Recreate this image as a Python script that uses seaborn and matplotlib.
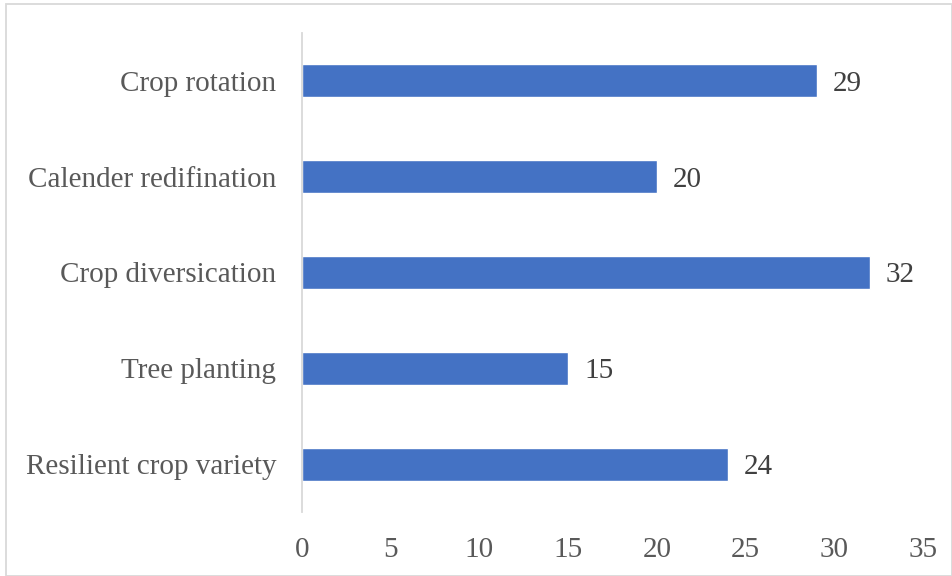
import matplotlib
matplotlib.use("Agg")
import matplotlib.pyplot as plt
import seaborn as sns
import pandas as pd
from matplotlib.patches import Rectangle

categories = ["Crop rotation", "Calender redifination", "Crop diversication",
              "Tree planting", "Resilient crop variety"]
values = [29, 20, 32, 15, 24]
xticks = [0, 5, 10, 15, 20, 25, 30, 35]

df = pd.DataFrame({"cat": categories, "val": values})

sns.set_style("white")
plt.rcParams['font.family'] = ['Liberation Serif', 'DejaVu Serif']

fig = plt.figure(figsize=(9.52, 5.76), dpi=100)
W, H = 952, 576
ax = fig.add_axes([302 / W, 1 - 512 / H, (923 - 302) / W, (512 - 33) / H])

sns.barplot(data=df, x="val", y="cat", color="#4472C4", width=0.345,
            orient="h", ax=ax, saturation=1)

FS = 21
ax.set_xlim(0, 35)
ax.set_xticks(xticks)
ax.set_xlabel("")
ax.set_ylabel("")
for s in ["top", "right", "bottom"]:
    ax.spines[s].set_visible(False)
ax.spines["left"].set_color("#d9d9d9")
ax.spines["left"].set_linewidth(1.3)
ax.tick_params(axis="both", length=0, labelsize=FS, colors="#595959")
ax.tick_params(axis="x", pad=18)
ax.tick_params(axis="y", pad=18.5)

for p, v in zip(ax.patches, values):
    ax.annotate(f"{v}", (p.get_width(), p.get_y() + p.get_height() / 2),
                xytext=(16, 0), textcoords="offset pixels",
                va="center_baseline", ha="left", fontsize=FS, color="#404040")

fig.patches.append(Rectangle((6 / W, 0), 1 - 6 / W, 1 - 4 / H,
                             transform=fig.transFigure, fill=False,
                             edgecolor="#d9d9d9", linewidth=1.3))

fig.savefig("out.png", dpi=100)
